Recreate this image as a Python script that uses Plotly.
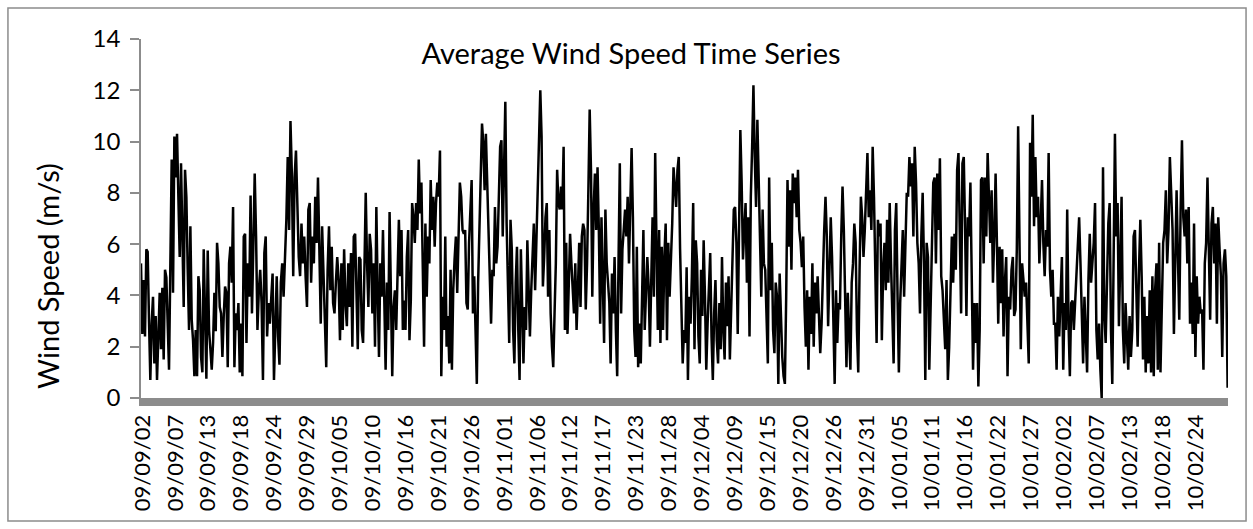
import numpy as np
import pandas as pd
import plotly.graph_objects as go

# Time windows covered by each block of readings (values spread evenly inside each window)
segment_bounds = [
    "2009-09-02 00:00", "2009-09-19 06:30", "2009-10-07 12:45", "2009-10-25 19:00",
    "2009-11-13 01:30", "2009-12-01 07:45", "2009-12-19 14:00", "2010-01-06 20:20",
    "2010-01-25 02:40", "2010-02-12 09:00", "2010-03-01 07:30",
]

# Average wind speed (m/s)
speed_sep_a = [5.25, 2.5, 4.6, 2.4, 5.8, 5.7, 3.0, 0.7, 2.9, 3.95, 1.35, 3.2, 0.7, 2.65, 4.1, 1.9,
               4.3, 1.5, 5.0, 4.7, 2.9, 1.1, 5.25, 9.3, 4.1, 10.2, 8.6, 10.3, 7.85, 5.5, 9.15, 6.55,
               3.55, 8.9, 7.85, 5.0, 2.65, 6.7, 3.05, 2.25, 0.85, 2.65, 0.85, 4.75, 4.2, 1.6, 1.0,
               5.8, 2.65, 0.75, 5.75, 2.65, 1.9, 1.1, 2.15, 4.1, 2.6, 6.05, 5.25, 3.55, 3.3, 1.6,
               3.2, 4.35, 4.1, 1.2, 5.25, 5.9, 4.5, 7.45, 1.2, 3.3, 2.65, 3.7, 1.0, 2.9, 0.85, 6.3]
speed_sep_b = [6.4, 2.15, 5.25, 3.95, 7.9, 3.3, 5.9, 8.75, 6.3, 2.65, 4.2, 5.0, 3.7, 0.7, 5.65, 6.3,
               2.4, 3.7, 2.9, 4.2, 4.85, 0.7, 3.2, 4.75, 2.4, 1.3, 4.5, 5.25, 3.95, 5.4, 6.95, 9.4,
               6.55, 10.8, 8.75, 4.75, 8.6, 9.65, 7.35, 5.5, 4.75, 6.8, 5.25, 6.3, 4.75, 3.55, 7.35,
               7.6, 4.5, 6.3, 5.25, 7.85, 6.05, 8.6, 5.8, 2.9, 6.7, 5.0, 2.65, 1.2, 5.0, 6.7, 4.2,
               5.9, 3.7, 3.3, 4.5, 5.5, 4.6, 2.25, 5.25, 2.65, 5.8, 3.7, 2.8, 5.25, 3.55, 5.65, 2.0, 6.3]
speed_oct_a = [6.4, 3.3, 1.9, 5.5, 5.4, 2.65, 2.15, 5.0, 8.0, 5.25, 3.55, 6.4, 5.8, 3.3, 5.25, 2.0,
               7.45, 4.2, 1.6, 5.25, 3.95, 6.55, 2.9, 1.1, 4.5, 2.65, 7.25, 3.95, 0.85, 3.55, 4.2,
               2.65, 5.25, 6.95, 4.75, 6.55, 2.65, 3.8, 2.65, 5.5, 6.55, 2.25, 3.8, 7.6, 7.05, 6.05,
               7.6, 6.55, 9.3, 7.2, 8.4, 5.25, 2.0, 6.8, 3.95, 6.3, 5.25, 8.5, 6.55, 7.85, 5.9, 7.6,
               8.4, 7.85, 9.65, 0.85, 3.95, 2.65, 6.3, 2.0, 3.2, 1.35, 5.0, 1.1, 4.2, 5.4, 6.3, 4.1,
               6.05, 8.4, 7.85, 6.55, 6.4]
speed_oct_b = [6.55, 3.7, 3.45, 6.05, 7.6, 8.5, 3.3, 4.75, 2.65, 0.55, 4.5, 7.05, 8.4, 10.7, 9.95,
               8.1, 10.3, 8.6, 6.8, 4.5, 2.9, 5.0, 4.75, 7.45, 5.25, 5.9, 7.6, 9.8, 10.05, 6.3, 8.9,
               11.55, 6.8, 5.0, 2.15, 6.95, 5.8, 2.65, 1.35, 4.5, 5.9, 2.65, 0.7, 5.8, 3.2, 1.35,
               3.55, 2.65, 6.15, 3.95, 2.4, 4.2, 5.25, 6.8, 4.2, 6.05, 7.85, 10.2, 12.0, 10.2, 4.35,
               5.5, 7.05, 7.6, 3.95, 6.55, 3.3, 2.0, 1.2, 3.3, 5.25, 8.9, 7.6, 7.35, 8.25, 7.35, 9.8,
               2.65, 6.05, 2.5, 4.5, 6.4, 5.25, 3.95, 3.3]
speed_nov_a = [5.25, 2.65, 4.2, 6.05, 3.55, 6.3, 6.8, 6.55, 3.45, 5.25, 8.1, 11.25, 8.9, 3.95, 7.35,
               8.75, 6.55, 9.0, 6.55, 2.9, 7.05, 4.75, 2.15, 7.35, 5.25, 4.5, 3.7, 1.35, 4.85, 3.3,
               5.5, 2.65, 0.85, 5.25, 9.15, 3.3, 5.8, 6.55, 7.35, 6.3, 7.85, 5.25, 7.05, 9.75, 7.05,
               2.65, 1.6, 5.9, 1.2, 2.9, 1.35, 4.2, 6.55, 2.65, 4.5, 5.5, 4.35, 2.0, 4.6, 7.05, 3.95,
               9.55, 6.05, 2.65, 6.55, 2.15, 5.9, 2.65, 5.5, 6.8, 2.25, 6.05, 3.95, 5.25, 6.8, 9.0,
               8.1, 7.45, 8.9, 9.4, 5.8, 3.45, 1.35, 2.65]
speed_dec_a = [2.15, 5.1, 0.7, 3.95, 2.9, 4.75, 7.6, 1.9, 6.15, 5.25, 2.4, 1.35, 5.0, 3.2, 6.15, 3.95,
               1.1, 2.9, 4.5, 5.65, 2.4, 0.7, 3.3, 4.6, 2.25, 1.35, 3.7, 1.9, 5.5, 2.65, 1.5, 4.5,
               2.8, 4.75, 1.5, 3.7, 5.25, 7.35, 7.45, 6.05, 2.5, 5.9, 10.45, 8.4, 5.4, 6.55, 7.6,
               4.5, 7.05, 2.4, 7.85, 9.8, 12.2, 9.4, 7.45, 10.85, 8.1, 5.25, 3.95, 7.35, 5.25, 5.0,
               3.3, 1.35, 8.6, 4.2, 6.05, 2.65, 1.75, 4.5, 3.95, 0.55, 4.85, 2.65, 1.6, 0.85, 0.55,
               3.95, 8.5, 5.9, 8.1, 5.0, 8.75, 7.6]
speed_dec_b = [8.6, 7.05, 8.9, 6.55, 6.05, 5.1, 6.3, 3.55, 2.0, 4.2, 1.1, 3.95, 2.5, 5.25, 2.0, 4.5,
               3.3, 4.75, 2.65, 1.75, 2.9, 5.25, 6.55, 7.85, 6.3, 2.8, 5.25, 7.05, 5.5, 2.4, 0.55,
               4.2, 2.15, 3.7, 3.45, 6.3, 8.25, 6.55, 3.95, 1.2, 4.1, 2.65, 1.1, 4.5, 5.25, 6.8, 6.05,
               2.65, 1.0, 5.0, 7.85, 7.05, 5.5, 6.55, 7.85, 9.55, 7.05, 8.1, 6.55, 9.8, 7.85, 5.0,
               2.15, 6.95, 6.3, 6.8, 2.25, 5.0, 6.05, 4.2, 6.95, 4.5, 7.6, 5.25, 3.45, 1.35, 6.55,
               7.6, 3.95, 1.0, 3.7, 5.25, 6.55, 3.95]
speed_jan_a = [6.55, 8.0, 7.85, 9.4, 8.25, 9.15, 6.3, 9.8, 8.4, 6.05, 5.25, 3.3, 6.3, 8.0, 5.25, 0.7,
               6.05, 5.5, 1.1, 3.45, 5.25, 8.4, 8.6, 5.25, 8.75, 6.55, 9.35, 4.75, 4.2, 2.65, 1.9,
               4.6, 0.7, 2.0, 4.2, 6.3, 4.5, 6.4, 5.0, 8.9, 9.55, 6.3, 3.3, 9.15, 9.4, 6.55, 3.2,
               7.05, 6.3, 8.4, 4.5, 1.1, 3.7, 2.15, 3.7, 0.45, 2.65, 8.5, 8.6, 5.25, 8.6, 6.3, 9.55,
               7.35, 6.05, 8.1, 4.5, 6.3, 8.75, 6.05, 2.9, 5.9, 3.7, 5.8, 2.4, 4.5, 5.5, 0.85, 3.95,
               3.45, 5.0, 5.5, 3.2]
speed_jan_b = [3.45, 5.8, 10.6, 5.25, 1.9, 5.25, 4.5, 3.95, 4.5, 3.2, 1.35, 9.95, 7.85, 11.05, 6.7,
               9.4, 7.05, 7.85, 5.25, 6.8, 8.5, 6.05, 4.75, 6.55, 5.9, 9.55, 5.0, 3.95, 5.0, 2.9, 2.9,
               1.1, 3.95, 2.4, 3.95, 5.5, 1.1, 3.7, 2.65, 7.35, 2.9, 0.85, 3.7, 3.8, 2.65, 3.7, 5.0,
               5.9, 7.05, 5.25, 2.9, 1.35, 3.95, 2.65, 1.0, 4.6, 6.4, 4.5, 5.25, 6.05, 7.6, 2.65, 1.5,
               2.9, 1.1, 0.0, 9.0, 3.3, 2.15, 5.0, 6.8, 7.6, 2.65, 0.55, 5.25, 10.3, 6.3, 7.6, 2.8,
               5.25, 7.85, 2.65, 1.35]
speed_feb_a = [3.7, 2.65, 1.1, 3.2, 1.6, 2.65, 6.3, 6.55, 3.95, 2.0, 5.0, 6.95, 4.75, 1.5, 3.95, 1.0,
               3.2, 1.35, 4.2, 1.0, 4.75, 0.85, 4.2, 5.25, 1.1, 6.05, 1.0, 3.95, 6.05, 6.55, 8.1,
               5.25, 6.55, 9.4, 8.25, 6.55, 2.5, 5.25, 8.1, 5.5, 3.05, 7.35, 10.05, 7.05, 6.3, 7.35,
               5.25, 7.45, 2.9, 4.5, 2.5, 6.8, 1.6, 4.75, 2.9, 3.95, 3.3, 3.45, 1.1, 5.25, 6.05, 8.6,
               5.5, 3.05, 6.8, 7.45, 5.25, 6.8, 2.9, 7.05, 5.8, 4.75, 1.6, 5.25, 5.8, 4.75, 0.4]

tick_labels = [
    "09/09/02", "09/09/07", "09/09/13", "09/09/18", "09/09/24", "09/09/29", "09/10/05",
    "09/10/10", "09/10/16", "09/10/21", "09/10/26", "09/11/01", "09/11/06", "09/11/12",
    "09/11/17", "09/11/23", "09/11/28", "09/12/04", "09/12/09", "09/12/15", "09/12/20",
    "09/12/26", "09/12/31", "10/01/05", "10/01/11", "10/01/16", "10/01/22", "10/01/27",
    "10/02/02", "10/02/07", "10/02/13", "10/02/18", "10/02/24",
]

segments = [speed_sep_a, speed_sep_b, speed_oct_a, speed_oct_b, speed_nov_a,
            speed_dec_a, speed_dec_b, speed_jan_a, speed_jan_b, speed_feb_a]
bounds = pd.to_datetime(segment_bounds)

times, speeds = [], []
for i, seg in enumerate(segments):
    start, end = bounds[i], bounds[i + 1]
    n = len(seg)
    frac = np.linspace(0, 1, n) if i == len(segments) - 1 else np.arange(n) / n
    times.extend(start + (end - start) * f for f in frac)
    speeds.extend(seg)

# Category-style labels, evenly spaced as in the spreadsheet axis
tick_first = pd.Timestamp("2009-09-02 06:00")
tick_last = pd.Timestamp("2010-02-24 00:00")
tick_vals = [tick_first + (tick_last - tick_first) * k / (len(tick_labels) - 1)
             for k in range(len(tick_labels))]

FONT = "Lato"
fig = go.Figure()
fig.add_trace(go.Scatter(
    x=times, y=speeds, mode="lines",
    line=dict(color="black", width=2.5),
    showlegend=False, hoverinfo="skip",
))

fig.update_layout(
    width=1253, height=529,
    margin=dict(l=141, r=25, t=39, b=131),
    paper_bgcolor="white", plot_bgcolor="white",
    font=dict(family=FONT, color="black"),
    title=dict(text="Average Wind Speed Time Series", x=0.5036, y=0.898,
               xref="container", yref="container", xanchor="center", yanchor="middle",
               font=dict(family=FONT, size=29, color="black")),
    xaxis=dict(
        type="date",
        range=[bounds[0], pd.Timestamp("2010-03-01 09:00")],
        tickmode="array", tickvals=tick_vals, ticktext=tick_labels,
        tickangle=-90, tickfont=dict(size=22),
        ticks="", showgrid=False, zeroline=False,
        showline=True, linecolor="#8c8c8c", linewidth=8,
    ),
    yaxis=dict(
        range=[0, 14], dtick=2, tick0=0,
        ticks="outside", ticklen=9, tickwidth=1.5, tickcolor="#8c8c8c",
        tickfont=dict(size=24), ticklabelstandoff=5,
        showgrid=False, zeroline=False,
        showline=True, linecolor="#8c8c8c", linewidth=1.5,
    ),
    annotations=[dict(
        text="Wind Speed (m/s)", textangle=-90,
        xref="paper", yref="paper", x=-0.0856, y=0.34,
        xanchor="center", yanchor="middle", showarrow=False,
        font=dict(family=FONT, size=29, color="black"),
    )],
    shapes=[dict(
        type="rect", xref="paper", yref="paper",
        x0=-0.1224, x1=1.0166, y0=-0.3426, y1=1.0864,
        line=dict(color="#8c8c8c", width=1.5), fillcolor="rgba(0,0,0,0)", layer="below",
    )],
)

fig.write_html("out.html")
